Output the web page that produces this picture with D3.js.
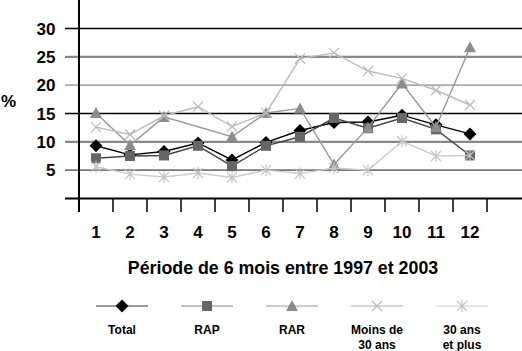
<!DOCTYPE html>
<html><head><meta charset="utf-8">
<script src="https://cdn.jsdelivr.net/npm/d3@7"></script>
<style>body{margin:0;background:#fff}svg{display:block;font-family:"Liberation Sans",Arial,sans-serif;font-weight:bold}</style>
</head><body>
<script>
const periods = [1,2,3,4,5,6,7,8,9,10,11,12];
const total  = [9.3, 7.7, 8.3, 9.8, 6.8, 9.9, 12.0, 13.4, 13.5, 14.7, 13.0, 11.4];
const rap    = [7.1, 7.5, 7.6, 9.3, 5.7, 9.3, 10.9, 14.2, 12.4, 14.2, 12.2, 7.6];
const rar    = [15.1, 9.4, 14.4, null, 10.9, 15.1, 15.9, 6.0, 12.5, 20.3, 12.6, 26.7];
const moins30 = [12.6, 11.3, 14.6, 16.2, 12.7, 15.1, 24.7, 25.7, 22.5, 21.2, 19.1, 16.5];
const plus30  = [5.6, 4.3, 3.8, 4.5, 3.7, 5.0, 4.4, 5.4, 5.0, 10.1, 7.5, 7.6];
const yTicks = [5,10,15,20,25,30];
const seriesNames = ["Total","RAP","RAR","Moins de\n30 ans","30 ans\net plus"];

const W=522,H=351;
const svg=d3.select("body").append("svg").attr("width",W).attr("height",H);
const x=d3.scaleBand().domain(periods).range([79,487]);
const y=d3.scaleLinear().domain([0,30]).range([198.5,28.5]);

// gridlines
const gridStyle={5:["#777",1.6],10:["#888",2.2],15:["#000",1.5],20:["#aaa",1.6],25:["#888",2.2],30:["#000",1.5]};
svg.append("g").selectAll("line").data(yTicks).join("line")
  .attr("x1",65).attr("x2",W).attr("y1",d=>y(d)).attr("y2",d=>y(d))
  .attr("stroke",d=>gridStyle[d][0]).attr("stroke-width",d=>gridStyle[d][1]);
// y labels
svg.append("g").selectAll("text").data(yTicks).join("text")
  .attr("x",55.5).attr("y",d=>y(d)+6).attr("text-anchor","end")
  .attr("font-size",17).text(d=>d);
svg.append("text").attr("x",1).attr("y",107).attr("font-size",17).text("%");

// x axis
svg.append("line").attr("x1",65).attr("x2",W).attr("y1",y(0)).attr("y2",y(0)).attr("stroke","#000").attr("stroke-width",2);
const edges=periods.map(p=>x(p)).concat([x(12)+x.bandwidth()]);
svg.append("g").selectAll("line").data(edges).join("line")
  .attr("x1",d=>d).attr("x2",d=>d).attr("y1",y(0)).attr("y2",212)
  .attr("stroke","#000").attr("stroke-width",1.5);
svg.append("line").attr("x1",79).attr("x2",79).attr("y1",0).attr("y2",212).attr("stroke","#000").attr("stroke-width",2);
svg.append("g").selectAll("text").data(periods).join("text")
  .attr("x",d=>x(d)+x.bandwidth()/2).attr("y",237.5).attr("text-anchor","middle")
  .attr("font-size",17).text(d=>d);
svg.append("text").attr("x",283).attr("y",273.5).attr("text-anchor","middle").attr("font-size",17.8)
  .text("Période de 6 mois entre 1997 et 2003");

// markers
function marker(g,type,color,cx,cy){
  if(type==="diamond") g.append("path").attr("d",`M${cx},${cy-6.5}L${cx+6.5},${cy}L${cx},${cy+6.5}L${cx-6.5},${cy}Z`).attr("fill",color);
  else if(type==="square") g.append("rect").attr("x",cx-5).attr("y",cy-5).attr("width",10).attr("height",10).attr("fill",color);
  else if(type==="triangle") g.append("path").attr("d",`M${cx},${cy-6}L${cx+6},${cy+5}L${cx-6},${cy+5}Z`).attr("fill",color);
  else if(type==="x") g.append("path").attr("d",`M${cx-5},${cy-5}L${cx+5},${cy+5}M${cx-5},${cy+5}L${cx+5},${cy-5}`).attr("stroke",color).attr("stroke-width",1.2);
  else if(type==="star") g.append("path").attr("d",`M${cx-5},${cy-5}L${cx+5},${cy+5}M${cx-5},${cy+5}L${cx+5},${cy-5}M${cx},${cy-6}L${cx},${cy+6}`).attr("stroke",color).attr("stroke-width",1.2);
}
const series=[
  {vals:total,line:"#000",mk:"diamond",mc:"#000",ll:"#777"},
  {vals:rap,line:"#444",mk:"square",mc:"#666",ll:"#aaa"},
  {vals:rar,line:"#999",mk:"triangle",mc:"#8c8c8c",ll:"#bbb"},
  {vals:moins30,line:"#bbb",mk:"x",mc:"#bbb",ll:"#ccc"},
  {vals:plus30,line:"#ccc",mk:"star",mc:"#c4c4c4",ll:"#ddd"}
];
const lineGen=d3.line().x(d=>x(d.p)+x.bandwidth()/2).y(d=>y(d.v));
series.forEach(s=>{
  const pts=periods.map((p,i)=>({p,v:s.vals[i]})).filter(d=>d.v!=null);
  const g=svg.append("g");
  g.append("path").attr("d",lineGen(pts)).attr("fill","none").attr("stroke",s.line).attr("stroke-width",1.4);
  pts.forEach(d=>marker(g,s.mk,s.mc,x(d.p)+x.bandwidth()/2,y(d.v)));
});

// legend
const lx=d3.scalePoint().domain(d3.range(5)).range([122,462]);
series.forEach((s,i)=>{
  const cx=lx(i), g=svg.append("g");
  g.append("line").attr("x1",cx-26).attr("x2",cx+26).attr("y1",306).attr("y2",306).attr("stroke",s.ll).attr("stroke-width",1.5);
  marker(g,s.mk,s.mc,cx,306);
  seriesNames[i].split("\n").forEach((t,j)=>{
    g.append("text").attr("x",cx).attr("y",334+j*14.5).attr("text-anchor","middle").attr("font-size",12).text(t);
  });
});
</script>
</body></html>
